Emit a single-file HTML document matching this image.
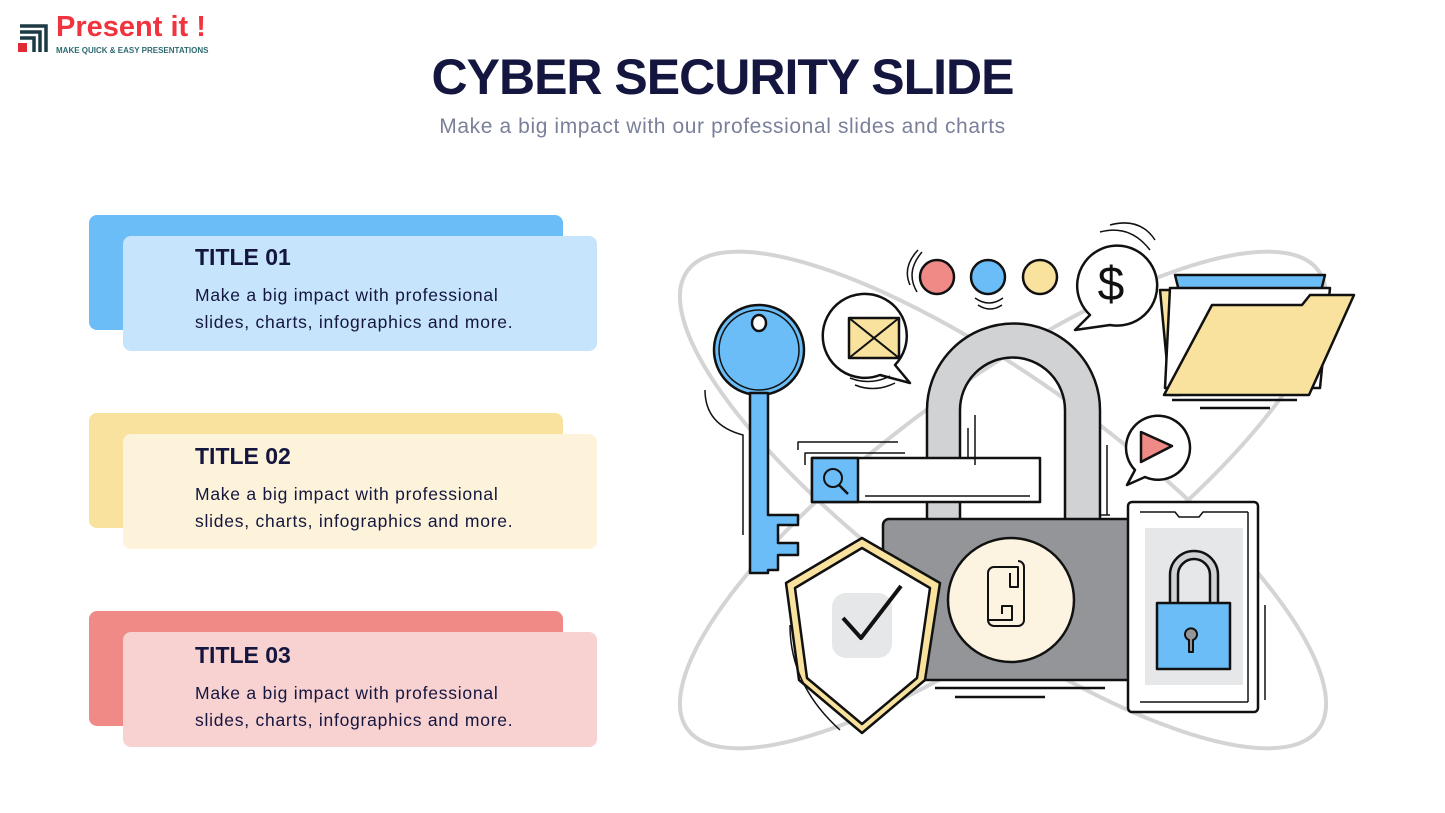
<!DOCTYPE html>
<html><head><meta charset="utf-8"><style>
body{margin:0;width:1445px;height:813px;background:#fff;position:relative;overflow:hidden;font-family:"Liberation Sans",sans-serif}
.a{position:absolute}
.t{font-weight:bold;font-size:23px;color:#14163f}
.d{font-size:17.5px;line-height:27px;color:#14163f;letter-spacing:0.75px}
</style></head><body>
<div class="a" style="left:18px;top:20px;width:30px;height:30px">
<svg width="32" height="32"><path d="M2 6h26v26M2 12h20v20M2 18h14v14" fill="none" stroke="#1d3a44" stroke-width="3.5"/><rect x="0" y="23" width="9" height="9" fill="#e02b35"/></svg></div>
<div class="a" style="left:56px;top:11px;font-size:29px;font-weight:bold;color:#f0333d">Present it !</div>
<div class="a" style="left:56px;top:46px;font-size:8px;font-weight:bold;color:#2d6a70">MAKE QUICK &amp; EASY PRESENTATIONS</div>
<div class="a" style="left:0;width:1445px;top:48px;text-align:center;font-size:50px;font-weight:bold;color:#14163f;letter-spacing:-1px">CYBER SECURITY SLIDE</div>
<div class="a" style="left:0;width:1445px;top:115px;text-align:center;font-size:21px;color:#7a8099;letter-spacing:0.6px">Make a big impact with our professional slides and charts</div>

<div class="a" style="left:89px;top:215px;width:474px;height:115px;background:#6bbdf7;border-radius:8px"></div>
<div class="a" style="left:123px;top:236px;width:474px;height:115px;background:#c6e4fb;border-radius:8px"></div>
<div class="a t" style="left:195px;top:244px">TITLE 01</div>
<div class="a d" style="left:195px;top:282px">Make a big impact with professional<br>slides, charts, infographics and more.</div>

<div class="a" style="left:89px;top:413px;width:474px;height:115px;background:#f8e29d;border-radius:8px"></div>
<div class="a" style="left:123px;top:434px;width:474px;height:115px;background:#fcf3da;border-radius:8px"></div>
<div class="a t" style="left:195px;top:443px">TITLE 02</div>
<div class="a d" style="left:195px;top:481px">Make a big impact with professional<br>slides, charts, infographics and more.</div>

<div class="a" style="left:89px;top:611px;width:474px;height:115px;background:#ef8a87;border-radius:8px"></div>
<div class="a" style="left:123px;top:632px;width:474px;height:115px;background:#f8d1d1;border-radius:8px"></div>
<div class="a t" style="left:195px;top:642px">TITLE 03</div>
<div class="a d" style="left:195px;top:680px">Make a big impact with professional<br>slides, charts, infographics and more.</div>

<svg class="a" style="left:0;top:0" width="1445" height="813" stroke="#111" stroke-width="2.5" stroke-linejoin="round">
<g fill="none" stroke="#d4d4d6" stroke-width="4">
<ellipse cx="1003" cy="500" rx="390" ry="118" transform="rotate(36 1003 500)"/>
<ellipse cx="1003" cy="500" rx="390" ry="118" transform="rotate(-36 1003 500)"/>
</g>
<path d="M927 520V410a86 86 0 0 1 173 0V520H1065V410a52 52 0 0 0-105 0V520Z" fill="#d1d2d4"/>
<path d="M1160 290l10 105h10l-10-105z" fill="#f8e29d"/>
<path d="M1175 275h150l-5 20h-140z" fill="#6bbdf7"/>
<path d="M1170 288h160l-10 100h-155z" fill="#fff"/>
<path d="M1212 305h90l8-10h44l-45 100h-145z" fill="#f8e29d"/>
<path d="M1172 400h125M1200 408h70" fill="none"/>
<rect x="883" y="519" width="257" height="161" rx="6" fill="#939598"/>
<ellipse cx="1011" cy="600" rx="63" ry="62" fill="#fdf3e1"/>
<path d="M994 567h24v20h-8v-14M988 580v40h24v-14h-10v8M994 567a6 6 0 0 0-6 6v47a6 6 0 0 0 6 6h24a6 6 0 0 0 6-6v-53a6 6 0 0 0-6-6" fill="none" stroke-width="2"/>
<path d="M935 688h170M955 697h90" fill="none"/>
<circle cx="759" cy="350" r="45" fill="#6bbdf7"/>
<circle cx="759" cy="350" r="40" fill="none" stroke-width="1.5"/>
<ellipse cx="759" cy="323" rx="7" ry="8" fill="#fff"/>
<path d="M750 393h18v122h30v10h-20v18h20v12h-20v15h-10v3h-18z" fill="#6bbdf7"/>
<path d="M705 390q0 35 38 45v100" fill="none" stroke-width="1.5"/>
<rect x="812" y="458" width="228" height="44" fill="#fff"/>
<rect x="812" y="458" width="46" height="44" fill="#6bbdf7"/>
<circle cx="833" cy="478" r="9" fill="none" stroke-width="2"/><path d="M839 485l9 9" fill="none"/>
<path d="M798 450v-8h100M805 465v-12h100M865 496h165M968 428v30M975 415v50M1100 420v95h10M1107 445v70" fill="none" stroke-width="1.5"/>
<path d="M862 538l78 45-15 97-63 53-63-53-13-97z" fill="#f8e29d"/>
<path d="M862 548l68 40-13 90-55 46-55-46-12-90z" fill="#fff"/>
<rect x="832" y="593" width="60" height="65" rx="14" fill="#e6e7e8" stroke="none"/>
<path d="M843 618l18 20 40-52" fill="none" stroke-width="4"/>
<path d="M790 625q0 60 50 105" fill="none" stroke-width="1.5"/>
<rect x="1128" y="502" width="130" height="210" rx="4" fill="#fff"/>
<path d="M1140 512h35l4 5h20l4-5h45M1248 512v190M1140 702h108" fill="none" stroke-width="1.5"/>
<rect x="1145" y="528" width="98" height="157" fill="#e6e7e8" stroke="none"/>
<path d="M1170 605v-30a24 24 0 0 1 48 0v30h-8v-30a16 16 0 0 0-32 0v30z" fill="#d1d2d4"/>
<rect x="1157" y="603" width="73" height="66" fill="#6bbdf7"/>
<path d="M1193 640a6 6 0 1 0-4 0v12h4z" fill="#939598" stroke-width="2"/>
<path d="M1265 605v95" fill="none" stroke-width="1.5"/>
<circle cx="937" cy="277" r="17" fill="#ef8a87"/>
<circle cx="988" cy="277" r="17" fill="#6bbdf7"/>
<circle cx="1040" cy="277" r="17" fill="#f8e29d"/>
<path d="M917 292q-12-20 5-40M910 285q-8-18 8-35M975 298q14 10 28 0M978 305q12 8 24 0" fill="none" stroke-width="1.5"/>
<path d="M1090 315a40 40 0 1 1 20 10l-35 5z" fill="#fff"/>
<text x="1111" y="300" font-size="48" text-anchor="middle" fill="#111" stroke="none" font-family="Liberation Sans">$</text>
<path d="M1100 232q30-8 50 18M1110 225q30-8 45 15" fill="none" stroke-width="1.5"/>
<path d="M895 365a42 42 0 1 0-15 10l30 8z" fill="#fff"/>
<rect x="849" y="318" width="50" height="40" fill="#f8e29d"/>
<path d="M849 318l50 40M899 318l-50 40" fill="none" stroke-width="2"/>
<path d="M850 378q20 8 40-2M855 385q20 8 40-2" fill="none" stroke-width="1.5"/>
<path d="M1135 470a32 32 0 1 1 10 7l-18 8z" fill="#fff"/>
<path d="M1141 432l31 14-31 16z" fill="#ef8a87"/>
</svg>
</body></html>
